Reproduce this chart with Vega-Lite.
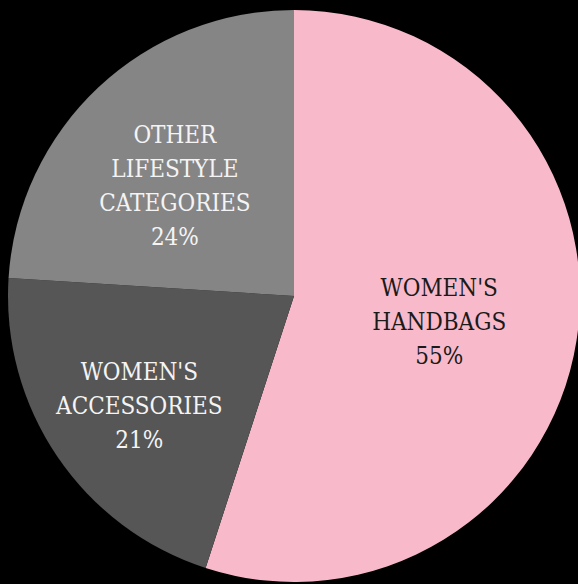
{
  "$schema": "https://vega.github.io/schema/vega-lite/v6.json",
  "autosize": {"type": "none"},
  "width": 568,
  "height": 576,
  "padding": {"left": 10, "top": 8, "right": 0, "bottom": 0},
  "background": "#000000",
  "config": {"view": {"stroke": null}},
  "data": {
    "values": [
      {"category": "WOMEN'S HANDBAGS", "label": "WOMEN'S\nHANDBAGS\n55%", "value": 55},
      {"category": "WOMEN'S ACCESSORIES", "label": "WOMEN'S\nACCESSORIES\n21%", "value": 21},
      {"category": "OTHER LIFESTYLE CATEGORIES", "label": "OTHER\nLIFESTYLE\nCATEGORIES\n24%", "value": 24}
    ]
  },
  "encoding": {
    "theta": {"field": "value", "type": "quantitative", "stack": true},
    "order": {"field": "category", "sort": "descending"}
  },
  "layer": [
    {
      "mark": {"type": "arc", "outerRadius": 286},
      "encoding": {
        "color": {
          "field": "category",
          "type": "nominal",
          "scale": {
            "domain": ["WOMEN'S HANDBAGS", "WOMEN'S ACCESSORIES", "OTHER LIFESTYLE CATEGORIES"],
            "range": ["#F8BACA", "#565656", "#858585"]
          },
          "legend": null
        }
      }
    },
    {
      "mark": {
        "type": "text",
        "font": "DejaVu Serif Condensed, DejaVu Serif",
        "fontSize": 24,
        "lineHeight": 34,
        "lineBreak": "\n",
        "align": "center",
        "baseline": "middle",
        "radius": {"expr": "datum.category === \"WOMEN'S HANDBAGS\" ? 147 : datum.category === \"WOMEN'S ACCESSORIES\" ? 187 : 174"},
        "dy": {"expr": "datum.category === \"WOMEN'S HANDBAGS\" ? -30 : datum.category === \"WOMEN'S ACCESSORIES\" ? -28 : -33"}
      },
      "encoding": {
        "text": {"field": "label"},
        "color": {
          "condition": {"test": "datum.category === \"WOMEN'S HANDBAGS\"", "value": "#1a1a1a"},
          "value": "#f4f4f4"
        }
      }
    }
  ]
}
